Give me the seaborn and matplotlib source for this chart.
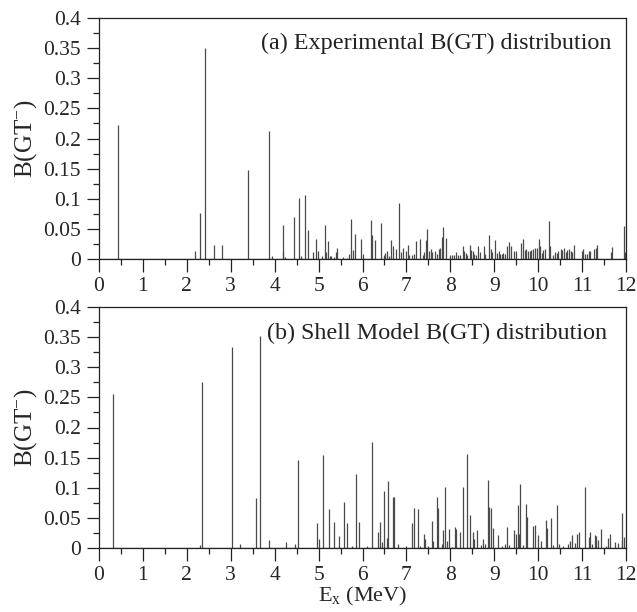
import numpy as np
import pandas as pd
import matplotlib
matplotlib.use("Agg")
import matplotlib.pyplot as plt
import seaborn as sns
from matplotlib.ticker import MultipleLocator, FuncFormatter

# ---------------- data ----------------
exp_E = [0.43, 2.19, 2.29, 2.42, 2.62, 2.80, 3.39, 3.87, 3.95, 4.18, 4.20, 4.24, 4.45, 4.56, 4.60,
         4.68, 4.77, 4.87, 4.93, 4.98, 5.07, 5.14, 5.18, 5.21, 5.26, 5.29, 5.34, 5.40, 5.43, 5.56,
         5.65, 5.70, 5.74, 5.78, 5.82, 5.97, 6.00, 6.20, 6.22, 6.28, 6.41, 6.49, 6.52, 6.56, 6.60,
         6.64, 6.70, 6.77, 6.82, 6.88, 6.93, 6.98, 7.04, 7.07, 7.12, 7.17, 7.22, 7.32, 7.37, 7.41,
         7.44, 7.46, 7.51, 7.55, 7.59, 7.64, 7.70, 7.74, 7.76, 7.82, 7.84, 7.91,
         7.99, 8.04, 8.08, 8.13, 8.18, 8.23, 8.28, 8.32, 8.35, 8.39, 8.44, 8.48, 8.52, 8.55, 8.59,
         8.64, 8.67, 8.76, 8.78, 8.89, 8.92, 8.96, 9.02, 9.06, 9.10, 9.13, 9.17, 9.21, 9.25, 9.30,
         9.34, 9.39, 9.45, 9.50, 9.61, 9.65, 9.70, 9.73, 9.76, 9.81, 9.84, 9.88, 9.92, 9.97, 10.01,
         10.04, 10.09, 10.12, 10.15, 10.25, 10.27, 10.34, 10.38, 10.42, 10.46, 10.51, 10.55, 10.58,
         10.63, 10.66, 10.71, 10.75, 10.78, 10.82, 10.99, 11.02, 11.07, 11.11, 11.15, 11.19, 11.28,
         11.31, 11.35, 11.65, 11.68, 11.95, 11.98]
exp_B = [0.223, 0.013, 0.076, 0.350, 0.023, 0.024, 0.147, 0.213, 0.005, 0.056, 0.014, 0.003, 0.070, 0.101, 0.005,
         0.107, 0.048, 0.012, 0.033, 0.013, 0.005, 0.057, 0.012, 0.030, 0.005, 0.005, 0.003, 0.011, 0.019, 0.003,
         0.002, 0.008, 0.066, 0.015, 0.041, 0.033, 0.008, 0.064, 0.040, 0.032, 0.060, 0.007, 0.010, 0.013, 0.005,
         0.031, 0.021, 0.017, 0.093, 0.012, 0.018, 0.013, 0.024, 0.007, 0.007, 0.009, 0.030, 0.033, 0.006, 0.012,
         0.031, 0.050, 0.014, 0.016, 0.012, 0.014, 0.009, 0.016, 0.018, 0.037, 0.053, 0.035,
         0.006, 0.007, 0.007, 0.011, 0.007, 0.007, 0.022, 0.014, 0.010, 0.007, 0.023, 0.015, 0.014, 0.008, 0.007,
         0.022, 0.011, 0.022, 0.008, 0.040, 0.017, 0.011, 0.031, 0.010, 0.013, 0.008, 0.008, 0.010, 0.009, 0.022,
         0.028, 0.022, 0.014, 0.014, 0.026, 0.033, 0.015, 0.016, 0.014, 0.014, 0.015, 0.016, 0.018, 0.019, 0.033,
         0.021, 0.010, 0.015, 0.016, 0.063, 0.021, 0.007, 0.011, 0.010, 0.013, 0.017, 0.015, 0.019,
         0.011, 0.015, 0.017, 0.014, 0.012, 0.023, 0.014, 0.016, 0.009, 0.008, 0.013, 0.014, 0.017,
         0.019, 0.023, 0.012, 0.020, 0.055, 0.011]

sm_E = [0.33, 2.30, 2.34, 3.03, 3.21, 3.57, 3.67, 3.87, 4.26, 4.46, 4.52, 4.97, 5.01, 5.10, 5.23,
        5.34, 5.46, 5.59, 5.65, 5.77, 5.86, 5.93, 6.11, 6.21, 6.36, 6.39, 6.45, 6.50, 6.55, 6.59,
        6.70, 6.72, 6.81, 6.99, 7.12, 7.17, 7.26, 7.30, 7.39, 7.42, 7.49, 7.58, 7.60, 7.69, 7.73,
        7.82, 7.83, 7.88, 7.92, 7.98,
        8.03, 8.10, 8.12, 8.23, 8.28, 8.39, 8.44, 8.52, 8.55, 8.60, 8.70, 8.75, 8.80, 8.85, 8.88,
        8.92, 8.98, 9.08, 9.17, 9.24, 9.29, 9.34, 9.46, 9.49, 9.55, 9.57, 9.59, 9.65, 9.72, 9.75,
        9.88, 9.93, 10.00, 10.06, 10.18, 10.21, 10.29, 10.34, 10.44, 10.48, 10.57, 10.69, 10.72,
        10.78, 10.83, 10.88, 10.94, 11.06, 11.15, 11.18, 11.23, 11.29, 11.32, 11.36, 11.42, 11.54,
        11.58, 11.63, 11.74, 11.81, 11.90, 11.92, 11.95]
sm_B = [0.256, 0.005, 0.2755, 0.334, 0.006, 0.0835, 0.352, 0.013, 0.010, 0.007, 0.1455, 0.041, 0.015, 0.154, 0.065,
        0.043, 0.020, 0.077, 0.041, 0.003, 0.122, 0.043, 0.004, 0.176, 0.027, 0.043, 0.010, 0.0945, 0.017, 0.111,
        0.085, 0.085, 0.006, 0.004, 0.042, 0.066, 0.065, 0.003, 0.024, 0.015, 0.003, 0.044, 0.011, 0.085, 0.066,
        0.006, 0.030, 0.102, 0.012, 0.031,
        0.002, 0.035, 0.031, 0.027, 0.101, 0.1555, 0.054, 0.026, 0.015, 0.030, 0.005, 0.015, 0.006, 0.113, 0.068,
        0.066, 0.033, 0.021, 0.003, 0.006, 0.035, 0.005, 0.030, 0.024, 0.071, 0.024, 0.106, 0.005, 0.0725, 0.052,
        0.036, 0.039, 0.022, 0.012, 0.047, 0.034, 0.049, 0.005, 0.0715, 0.007, 0.004, 0.007, 0.011,
        0.021, 0.008, 0.024, 0.026, 0.101, 0.018, 0.027, 0.006, 0.022, 0.020, 0.013, 0.031, 0.004,
        0.017, 0.023, 0.010, 0.008, 0.014, 0.0575, 0.018]

panel_labels = ["(a) Experimental B(GT) distribution", "(b) Shell Model B(GT) distribution"]
x_ticks = list(range(0, 13))
y_ticks = [0, 0.05, 0.1, 0.15, 0.2, 0.25, 0.3, 0.35, 0.4]

# ---------------- style ----------------
sns.set_theme(style="ticks")
plt.rcParams["font.family"] = ["Liberation Serif", "DejaVu Serif"]
plt.rcParams["mathtext.fontset"] = "custom"
plt.rcParams["mathtext.rm"] = "Liberation Serif"
plt.rcParams["mathtext.it"] = "Liberation Serif:italic"

fig = plt.figure(figsize=(6.37, 6.12), dpi=100)
ax1 = fig.add_axes([99/637, 1-259/612, 527/637, 241/612])
ax2 = fig.add_axes([99/637, 1-548/612, 527/637, 241/612])

datasets = [pd.DataFrame({"E": exp_E, "B": exp_B}), pd.DataFrame({"E": sm_E, "B": sm_B})]

def fmt(v, pos):
    return f"{v:.2f}".rstrip("0").rstrip(".")

for ax, df, lab, ypos, xr in zip([ax1, ax2], datasets, panel_labels, [0.895, 0.89], [0.972, 0.965]):
    ax.vlines(df["E"], 0, df["B"], color="#4a4a4a", linewidth=0.9)
    ax.axhline(0, color="#333333", linewidth=0.9)
    ax.set_xlim(0, 12)
    ax.set_ylim(0, 0.4)
    ax.set_xticks(x_ticks)
    ax.set_yticks(y_ticks)
    ax.yaxis.set_major_formatter(FuncFormatter(fmt))
    ax.xaxis.set_minor_locator(MultipleLocator(0.5))
    ax.yaxis.set_minor_locator(MultipleLocator(0.025))
    ax.tick_params(axis="both", which="major", direction="out", length=9, width=0.9,
                   color="#222222")
    ax.tick_params(axis="both", which="minor", direction="out", length=4.5, width=0.9,
                   color="#222222")
    ax.tick_params(axis="x", labelsize=15.5, pad=4)
    ax.tick_params(axis="y", labelsize=15.5, pad=4)
    for sp in ax.spines.values():
        sp.set_visible(True)
        sp.set_linewidth(0.9)
        sp.set_color("#222222")
    ax.set_ylabel(r"B(GT$^{-}$)", fontsize=18, labelpad=3)
    ax.text(xr, ypos, lab, transform=ax.transAxes, ha="right", va="center", fontsize=17.4,
            color="#222222")

ax2.set_xlabel(r"E$_{\mathrm{x}}$ (MeV)", fontsize=16, labelpad=0)

fig.savefig("out.png", dpi=100, facecolor="white")
